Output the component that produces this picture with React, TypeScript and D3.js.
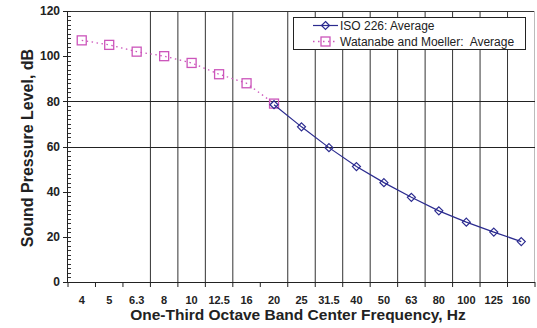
import React from "react";
import * as d3 from "d3";

const categories = ["4", "5", "6.3", "8", "10", "12.5", "16", "20", "25", "31.5", "40", "50", "63", "80", "100", "125", "160"];
const watanabeCats = ["4", "5", "6.3", "8", "10", "12.5", "16", "20"];
const watanabeValues = [107, 105, 102, 100, 97, 92, 88, 79];
const isoCats = ["20", "25", "31.5", "40", "50", "63", "80", "100", "125", "160"];
const isoValues = [78.5, 68.7, 59.5, 51.1, 44.0, 37.5, 31.5, 26.5, 22.1, 17.9];
const yTicks = [0, 20, 40, 60, 80, 100, 120];
const hGrid = [60, 80];
const vGridSkip = [1, 2, 7];

const W = 537;
const H = 328;
const m = { left: 68, right: 535, top: 11, bottom: 282 };
const FONT = "'Liberation Sans', Arial, sans-serif";
const PINK = "#cc55bb";
const NAVY = "#2b2b8f";

export default function App() {
  const x = d3.scaleBand<string>().domain(categories).range([m.left, m.right]).paddingInner(0).paddingOuter(0);
  const y = d3.scaleLinear().domain([0, 120]).range([m.bottom, m.top]);
  const cx = (c: string) => (x(c) as number) + x.bandwidth() / 2;
  const line = d3.line<[string, number]>().x((d) => cx(d[0])).y((d) => y(d[1]));
  const wData = watanabeCats.map((c, i) => [c, watanabeValues[i]] as [string, number]);
  const iData = isoCats.map((c, i) => [c, isoValues[i]] as [string, number]);
  const minorTicks = d3.range(0, 121, 2).filter((v) => v % 20 !== 0);
  const boundaries = d3.range(1, categories.length + 1).map((i) => m.left + i * x.bandwidth());

  const diamond = (px: number, py: number, k: string | number) => (
    <path key={k} d={`M${px},${py - 4}L${px + 4},${py}L${px},${py + 4}L${px - 4},${py}Z`} fill="none" stroke={NAVY} strokeWidth={1.2} />
  );
  const square = (px: number, py: number, k: string | number) => (
    <rect key={k} x={px - 4.5} y={py - 4.5} width={9} height={9} fill="none" stroke={PINK} strokeWidth={1.3} />
  );

  return (
    <svg width={W} height={H} style={{ position: "absolute", left: 0, top: 0, background: "#fff" }} fontFamily={FONT}>
      {/* frame */}
      <line x1={m.left} x2={m.right} y1={m.top + 0.5} y2={m.top + 0.5} stroke="#333" />
      <line x1={m.right - 0.5} x2={m.right - 0.5} y1={m.top} y2={m.bottom} stroke="#bbb" />
      {/* vertical grid */}
      {boundaries.map((bx, i) =>
        vGridSkip.includes(i + 1) || i + 1 === categories.length ? null : (
          <line key={"vg" + i} x1={bx} x2={bx} y1={m.top} y2={m.bottom} stroke="#333" strokeWidth={1} />
        )
      )}
      {/* horizontal grid */}
      {hGrid.map((v) => (
        <line key={"hg" + v} x1={m.left} x2={m.right} y1={Math.round(y(v)) + 0.5} y2={Math.round(y(v)) + 0.5} stroke="#222" />
      ))}
      {/* y axis */}
      <line x1={m.left - 0.5} x2={m.left - 0.5} y1={m.top} y2={m.bottom + 1} stroke="#222" />
      {minorTicks.map((v) => (
        <line key={"mt" + v} x1={m.left} x2={m.left + 3} y1={Math.round(y(v)) + 0.5} y2={Math.round(y(v)) + 0.5} stroke="#333" />
      ))}
      {yTicks.map((v) => (
        <g key={"yt" + v}>
          <line x1={m.left - 5} x2={m.left + 3} y1={Math.round(y(v)) + 0.5} y2={Math.round(y(v)) + 0.5} stroke="#222" />
          <text x={m.left - 8} y={y(v)} dy="0.35em" textAnchor="end" fontSize={12} fontWeight="bold" fill="#222">
            {v}
          </text>
        </g>
      ))}
      {/* x axis */}
      <line x1={m.left - 1} x2={m.right} y1={m.bottom + 0.5} y2={m.bottom + 0.5} stroke="#222" />
      {[m.left, ...boundaries].map((bx, i) => (
        <line key={"xt" + i} x1={bx} x2={bx} y1={m.bottom} y2={m.bottom + 5} stroke="#222" />
      ))}
      {categories.map((c) => (
        <text key={"xl" + c} x={cx(c)} y={m.bottom + 22} textAnchor="middle" fontSize={11} fontWeight="bold" fill="#222">
          {c}
        </text>
      ))}
      {/* axis titles */}
      <text x={298} y={320} textAnchor="middle" fontSize={15.5} fontWeight="bold" fill="#222">
        One-Third Octave Band Center Frequency, Hz
      </text>
      <text transform={`translate(33,148) rotate(-90)`} textAnchor="middle" fontSize={16} fontWeight="bold" fill="#222">
        Sound Pressure Level, dB
      </text>
      {/* series */}
      <path d={line(wData) || ""} fill="none" stroke={PINK} strokeWidth={1.3} strokeDasharray="1.5,3.5" />
      {wData.map((d, i) => square(cx(d[0]), y(d[1]), "w" + i))}
      <path d={line(iData) || ""} fill="none" stroke={NAVY} strokeWidth={1.2} />
      {iData.map((d, i) => diamond(cx(d[0]), y(d[1]), "i" + i))}
      {/* legend */}
      <rect x={293.5} y={17.5} width={232} height={32} fill="#fff" stroke="#222" />
      <line x1={313} x2={338} y1={25.5} y2={25.5} stroke={NAVY} strokeWidth={1.2} />
      {diamond(325.5, 25.5, "ld")}
      <text x={340} y={25.5} dy="0.35em" fontSize={12} fill="#222">ISO 226: Average</text>
      <line x1={313} x2={338} y1={41.5} y2={41.5} stroke={PINK} strokeWidth={1.3} strokeDasharray="1.5,3.5" />
      {square(325.5, 41.5, "ls")}
      <text x={340} y={41.5} dy="0.35em" fontSize={12} fill="#222" style={{ whiteSpace: "pre" }}>{"Watanabe and Moeller:  Average"}</text>
    </svg>
  );
}
